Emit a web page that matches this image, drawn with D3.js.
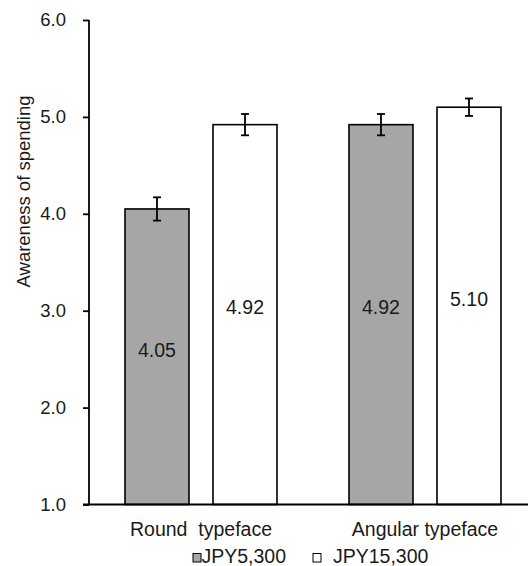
<!DOCTYPE html>
<html>
<head>
<meta charset="utf-8">
<script src="https://cdn.jsdelivr.net/npm/d3@7"></script>
<style>
  body { margin: 0; background: #fff; }
  text { font-family: "Liberation Sans", Arial, sans-serif; fill: #1a1a1a; }
</style>
</head>
<body>
<script>
//-----------------Data----------------

const categories = ["Round  typeface", "Angular typeface"];
const series = ["JPY5,300", "JPY15,300"];
const seriesColors = ["#a6a6a6", "#ffffff"];
// values[category][series]
const values = [[4.05, 4.92], [4.92, 5.10]];
const errors = [[0.12, 0.11], [0.11, 0.09]];
const yTicks = [1, 2, 3, 4, 5, 6];

//-----------------Svg----------------

const width = 528;
const height = 566;
const plotLeft = 89;
const plotRight = 537;
const plotTop = 20;
const plotBottom = 504.5;

const svg = d3.select("body").append("svg").attr("width", width).attr("height", height);

//-----------------Scales----------------

const yScale = d3.scaleLinear().domain([1, 6]).range([plotBottom, plotTop]);
const xScale = d3.scaleBand().domain(categories).range([plotLeft, plotRight]);
const xSub = d3.scaleBand().domain(series).range([36, 188]).paddingInner(0.273);

//-----------------Bars----------------

const rows = [];
categories.forEach((c, i) => {
  series.forEach((s, j) => {
    rows.push({ cat: c, ser: s, j: j, v: values[i][j], e: errors[i][j] });
  });
});

const groups = svg.selectAll("g.bar").data(rows).enter().append("g").attr("class", "bar")
  .attr("transform", (d) => "translate(" + (xScale(d.cat) + xSub(d.ser)) + ",0)");

groups.append("rect")
  .attr("x", 0)
  .attr("y", (d) => yScale(d.v))
  .attr("width", xSub.bandwidth())
  .attr("height", (d) => yScale(1) - yScale(d.v))
  .style("fill", (d) => seriesColors[d.j])
  .style("stroke", "#000")
  .style("stroke-width", 1.6);

// error bars
const bw = xSub.bandwidth();
groups.append("line")
  .attr("x1", bw / 2).attr("x2", bw / 2)
  .attr("y1", (d) => yScale(d.v + d.e)).attr("y2", (d) => yScale(d.v - d.e))
  .style("stroke", "#000").style("stroke-width", 1.8);
[1, -1].forEach((sign) => {
  groups.append("line")
    .attr("x1", bw / 2 - 4).attr("x2", bw / 2 + 4)
    .attr("y1", (d) => yScale(d.v + sign * d.e)).attr("y2", (d) => yScale(d.v + sign * d.e))
    .style("stroke", "#000").style("stroke-width", 1.8);
});

// value labels
groups.append("text")
  .attr("x", bw / 2)
  .attr("y", (d) => yScale((d.v + 1) / 2) - 7)
  .attr("dy", "0.35em")
  .style("text-anchor", "middle")
  .style("font-size", "19.5px")
  .text((d) => d.v.toFixed(2));

//-----------------Axes----------------

const yAxis = d3.axisLeft(yScale).tickValues(yTicks).tickSize(6).tickPadding(17)
  .tickFormat((d) => d.toFixed(1));
const gy = svg.append("g").attr("transform", "translate(" + plotLeft + ",0)").call(yAxis);
gy.select(".domain").attr("d", "M0," + plotTop + "V" + plotBottom).style("stroke", "#000").style("stroke-width", 1.8);
gy.selectAll(".tick line").style("stroke", "#000").style("stroke-width", 1.8);
gy.selectAll(".tick text").style("font-size", "18.5px").style("font-family", "'Liberation Sans', Arial, sans-serif").style("fill", "#1a1a1a");

// bottom axis line
svg.append("line")
  .attr("x1", plotLeft - 6).attr("x2", width)
  .attr("y1", plotBottom).attr("y2", plotBottom)
  .style("stroke", "#000").style("stroke-width", 1.8);

// category labels
svg.selectAll("text.cat").data(categories).enter().append("text")
  .attr("class", "cat")
  .attr("x", (d) => xScale(d) + xScale.bandwidth() / 2)
  .attr("y", 536)
  .style("text-anchor", "middle")
  .style("font-size", "19.5px")
  .style("white-space", "pre")
  .text((d) => d);

// y title
svg.append("text")
  .attr("transform", "translate(30,191.5) rotate(-90)")
  .style("text-anchor", "middle")
  .style("font-size", "18.5px")
  .text("Awareness of spending");

//-----------------Legend----------------

const legendX = [193, 313];
const legend = svg.append("g");
series.forEach((s, i) => {
  legend.append("rect")
    .attr("x", legendX[i]).attr("y", 553.5)
    .attr("width", 8).attr("height", 8.5)
    .style("fill", seriesColors[i]).style("stroke", "#000").style("stroke-width", 1);
  legend.append("text")
    .attr("x", legendX[i] + (i === 0 ? 8.5 : 20))
    .attr("y", 562.5)
    .style("font-size", "19.5px")
    .text(s);
});
</script>
</body>
</html>
